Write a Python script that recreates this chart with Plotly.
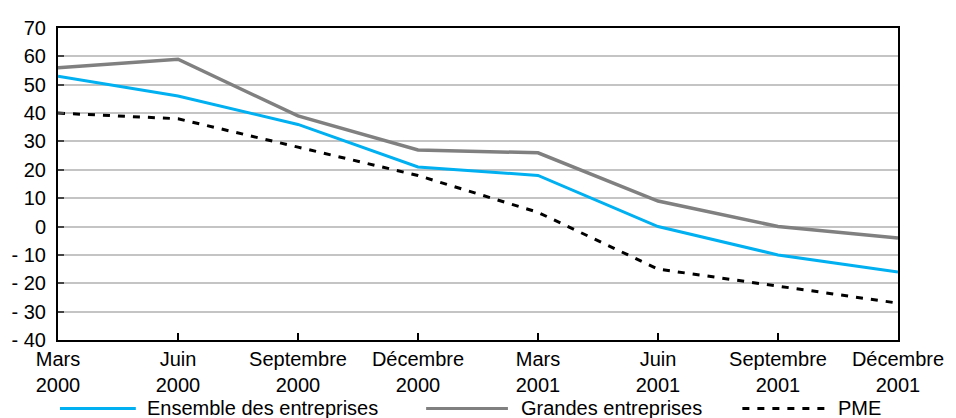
import plotly.graph_objects as go

# Quarterly survey balances (% of firms)
periods = ["Mars<br>2000", "Juin<br>2000", "Septembre<br>2000", "Décembre<br>2000",
           "Mars<br>2001", "Juin<br>2001", "Septembre<br>2001", "Décembre<br>2001"]
ensemble = [53, 46, 36, 21, 18, 0, -10, -16]
grandes = [56, 59, 39, 27, 26, 9, 0, -4]
pme = [40, 38, 28, 18, 5, -15, -21, -27]

y_ticks = list(range(-40, 80, 10))
y_labels = [("- " + str(-v)) if v < 0 else str(v) for v in y_ticks]

BLUE = "#00b0f0"
GRAY = "#808080"
BLACK = "#000000"
FONT = "Liberation Sans, Arial, sans-serif"
FSIZE = 20
DASH = "7px,8px"

xs = list(range(len(periods)))

fig = go.Figure()
fig.add_trace(go.Scatter(x=xs, y=ensemble, mode="lines", name="Ensemble des entreprises",
                         line=dict(color=BLUE, width=3)))
fig.add_trace(go.Scatter(x=xs, y=grandes, mode="lines", name="Grandes entreprises",
                         line=dict(color=GRAY, width=3.5)))
fig.add_trace(go.Scatter(x=xs, y=pme, mode="lines", name="PME",
                         line=dict(color=BLACK, width=3, dash=DASH)))

fig.update_layout(
    width=956, height=418,
    margin=dict(l=58, r=56, t=28, b=78),
    paper_bgcolor="white", plot_bgcolor="white",
    showlegend=False,
    font=dict(family=FONT, size=FSIZE, color="black"),
)

fig.update_xaxes(
    range=[0, len(periods) - 1],
    tickmode="array", tickvals=xs, ticktext=periods,
    ticks="inside", ticklen=7, tickwidth=1.5, tickcolor="black",
    showline=True, linecolor="black", linewidth=2, mirror=True,
    showgrid=False, zeroline=False,
)
fig.update_yaxes(
    range=[-40, 70],
    tickmode="array", tickvals=y_ticks, ticktext=y_labels,
    ticks="inside", ticklen=6, tickwidth=1.5, tickcolor="#444444",
    ticklabelstandoff=6,
    showline=True, linecolor="black", linewidth=2, mirror=True,
    showgrid=True, gridcolor="#c4c4c4", gridwidth=1.5,
    zeroline=False,
)

# Legend drawn as line samples with labels along the bottom
def px_x(x):
    return (x - 58) / 842.0

def px_y(y):
    return (340.5 - y) / 312.5

legend_items = [
    ("Ensemble des entreprises", BLUE, 3, "solid", 60, 136, 145),
    ("Grandes entreprises", GRAY, 3, "solid", 427, 509, 520),
    ("PME", BLACK, 3, DASH, 744, 829, 838),
]
ly = 409
for label, color, w, dash, x0, x1, tx in legend_items:
    fig.add_shape(type="line", xref="paper", yref="paper",
                  x0=px_x(x0), x1=px_x(x1), y0=px_y(ly), y1=px_y(ly),
                  line=dict(color=color, width=w, dash=dash))
    fig.add_annotation(xref="paper", yref="paper", x=px_x(tx), y=px_y(ly),
                       text=label, showarrow=False, xanchor="left", yanchor="middle",
                       font=dict(family=FONT, size=FSIZE, color="black"))

fig.write_html("out.html")
